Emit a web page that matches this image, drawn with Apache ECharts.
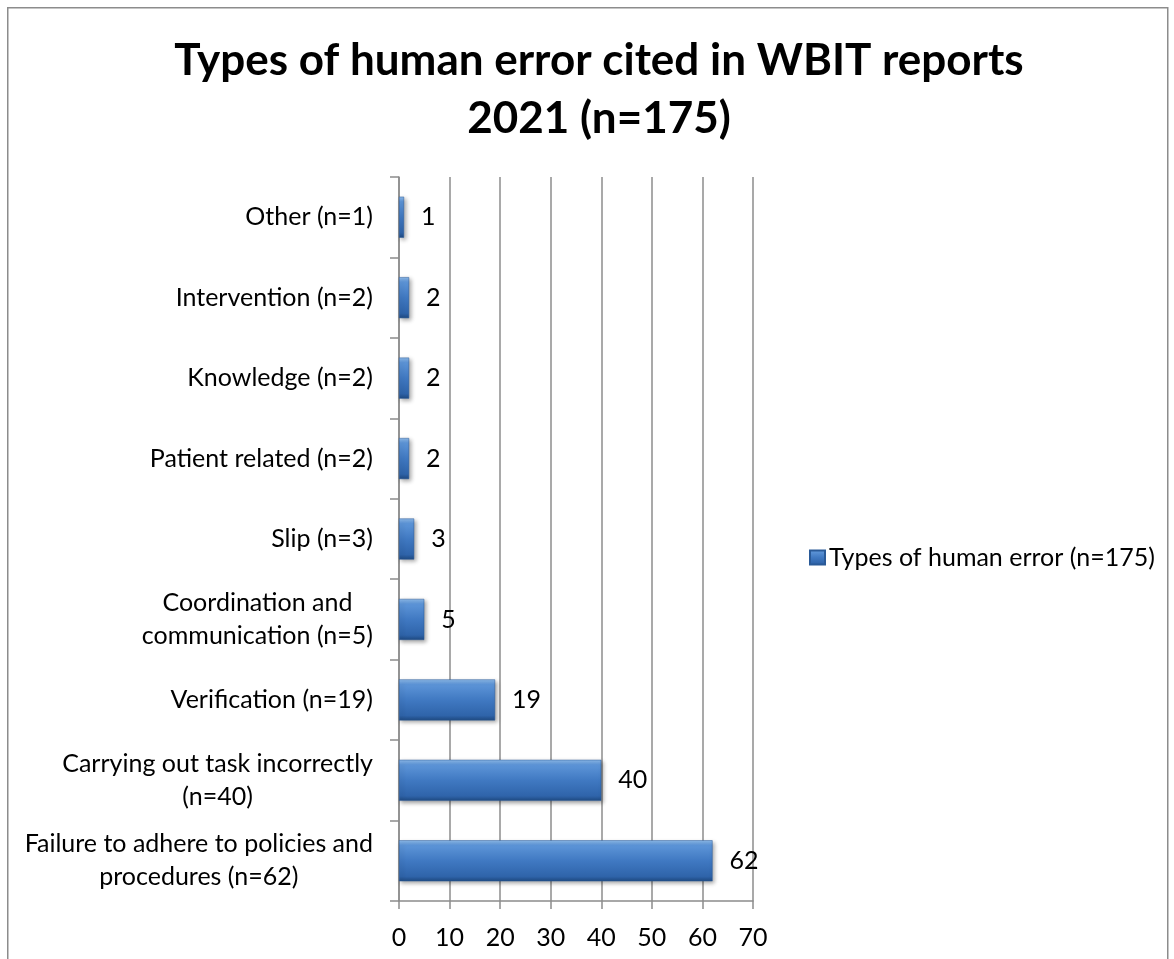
<!DOCTYPE html>
<html>
<head>
<meta charset="utf-8">
<script src="https://cdn.jsdelivr.net/npm/echarts@6/dist/echarts.min.js"></script>
<style>
html,body{margin:0;padding:0;background:#fff;}
#chart{width:1174px;height:959px;}
</style>
</head>
<body>
<div id="chart"></div>
<script>
const titleLines = ['Types of human error cited in WBIT reports', '2021 (n=175)'];
const seriesName = 'Types of human error (n=175)';
const categories = [
  'Failure to adhere to policies and\nprocedures (n=62)',
  'Carrying out task incorrectly\n(n=40)',
  'Verification (n=19)',
  'Coordination and\ncommunication (n=5)',
  'Slip (n=3)',
  'Patient related (n=2)',
  'Knowledge (n=2)',
  'Intervention (n=2)',
  'Other (n=1)'
];
const values = [62, 40, 19, 5, 3, 2, 2, 2, 1];
const xTicks = [0, 10, 20, 30, 40, 50, 60, 70];

const FONT = 'Lato';
const FS = 25;
const gridColor = '#8c8c8c';
const barFill = new echarts.graphic.LinearGradient(0, 0, 0, 1, [
  {offset: 0, color: '#8dbaea'},
  {offset: 0.12, color: '#5d95d8'},
  {offset: 0.5, color: '#4079c2'},
  {offset: 0.88, color: '#2f64aa'},
  {offset: 1, color: '#1f4a82'}
]);

const chart = echarts.init(document.getElementById('chart'), null, {renderer: 'canvas'});
chart.setOption({
  backgroundColor: '#fff',
  animation: false,
  graphic: [{
    type: 'rect', left: 7, top: 7, z: -1,
    shape: {width: 1160, height: 1000},
    style: {fill: '#fff', stroke: '#8c8c8c', lineWidth: 1.5}
  }],
  title: {
    text: titleLines.join('\n'),
    left: 594, top: 27, textAlign: 'center',
    textStyle: {fontFamily: FONT, fontWeight: 'bold', fontSize: 44, lineHeight: 58, color: '#000'}
  },
  legend: {
    left: 809, top: 545, padding: 0,
    icon: 'rect', itemWidth: 15, itemHeight: 14, itemGap: 6,
    textStyle: {fontFamily: FONT, fontSize: FS, color: '#000', padding: [0,0,0,-1]},
    data: [seriesName]
  },
  grid: {left: 399, top: 177, width: 354, height: 724, containLabel: false},
  xAxis: {
    type: 'value', min: 0, max: 70, interval: 10,
    axisLine: {show: true, lineStyle: {color: gridColor, width: 1.5}},
    axisTick: {show: true, length: 8, lineStyle: {color: gridColor, width: 1.5}},
    splitLine: {show: true, lineStyle: {color: gridColor, width: 1.5}},
    axisLabel: {
      fontFamily: FONT, fontSize: FS, color: '#000', margin: 24,
      formatter: v => xTicks.includes(v) ? String(v) : ''
    }
  },
  yAxis: {
    type: 'category', data: categories,
    axisLine: {show: true, lineStyle: {color: gridColor, width: 1.5}},
    axisTick: {show: true, length: 9, alignWithLabel: false, lineStyle: {color: gridColor, width: 1.5}},
    splitLine: {show: false},
    axisLabel: {
      margin: 26, color: '#000', fontFamily: FONT, fontSize: FS,
      formatter: v => v.split('\n').map(s => '{c|' + s + '}').join('\n'),
      rich: {c: {align: 'center', fontFamily: FONT, fontSize: FS, color: '#000', lineHeight: 33}}
    }
  },
  series: [{
    name: seriesName,
    type: 'bar',
    data: values,
    barCategoryGap: '49%',
    itemStyle: {
      color: barFill,
      borderColor: '#2a5a98', borderWidth: 0.5,
      shadowColor: 'rgba(0,0,0,0.35)', shadowBlur: 4, shadowOffsetX: 2, shadowOffsetY: 2
    },
    label: {
      show: true, position: 'right', distance: 17,
      fontFamily: FONT, fontSize: FS, color: '#000'
    }
  }]
});
</script>
</body>
</html>
